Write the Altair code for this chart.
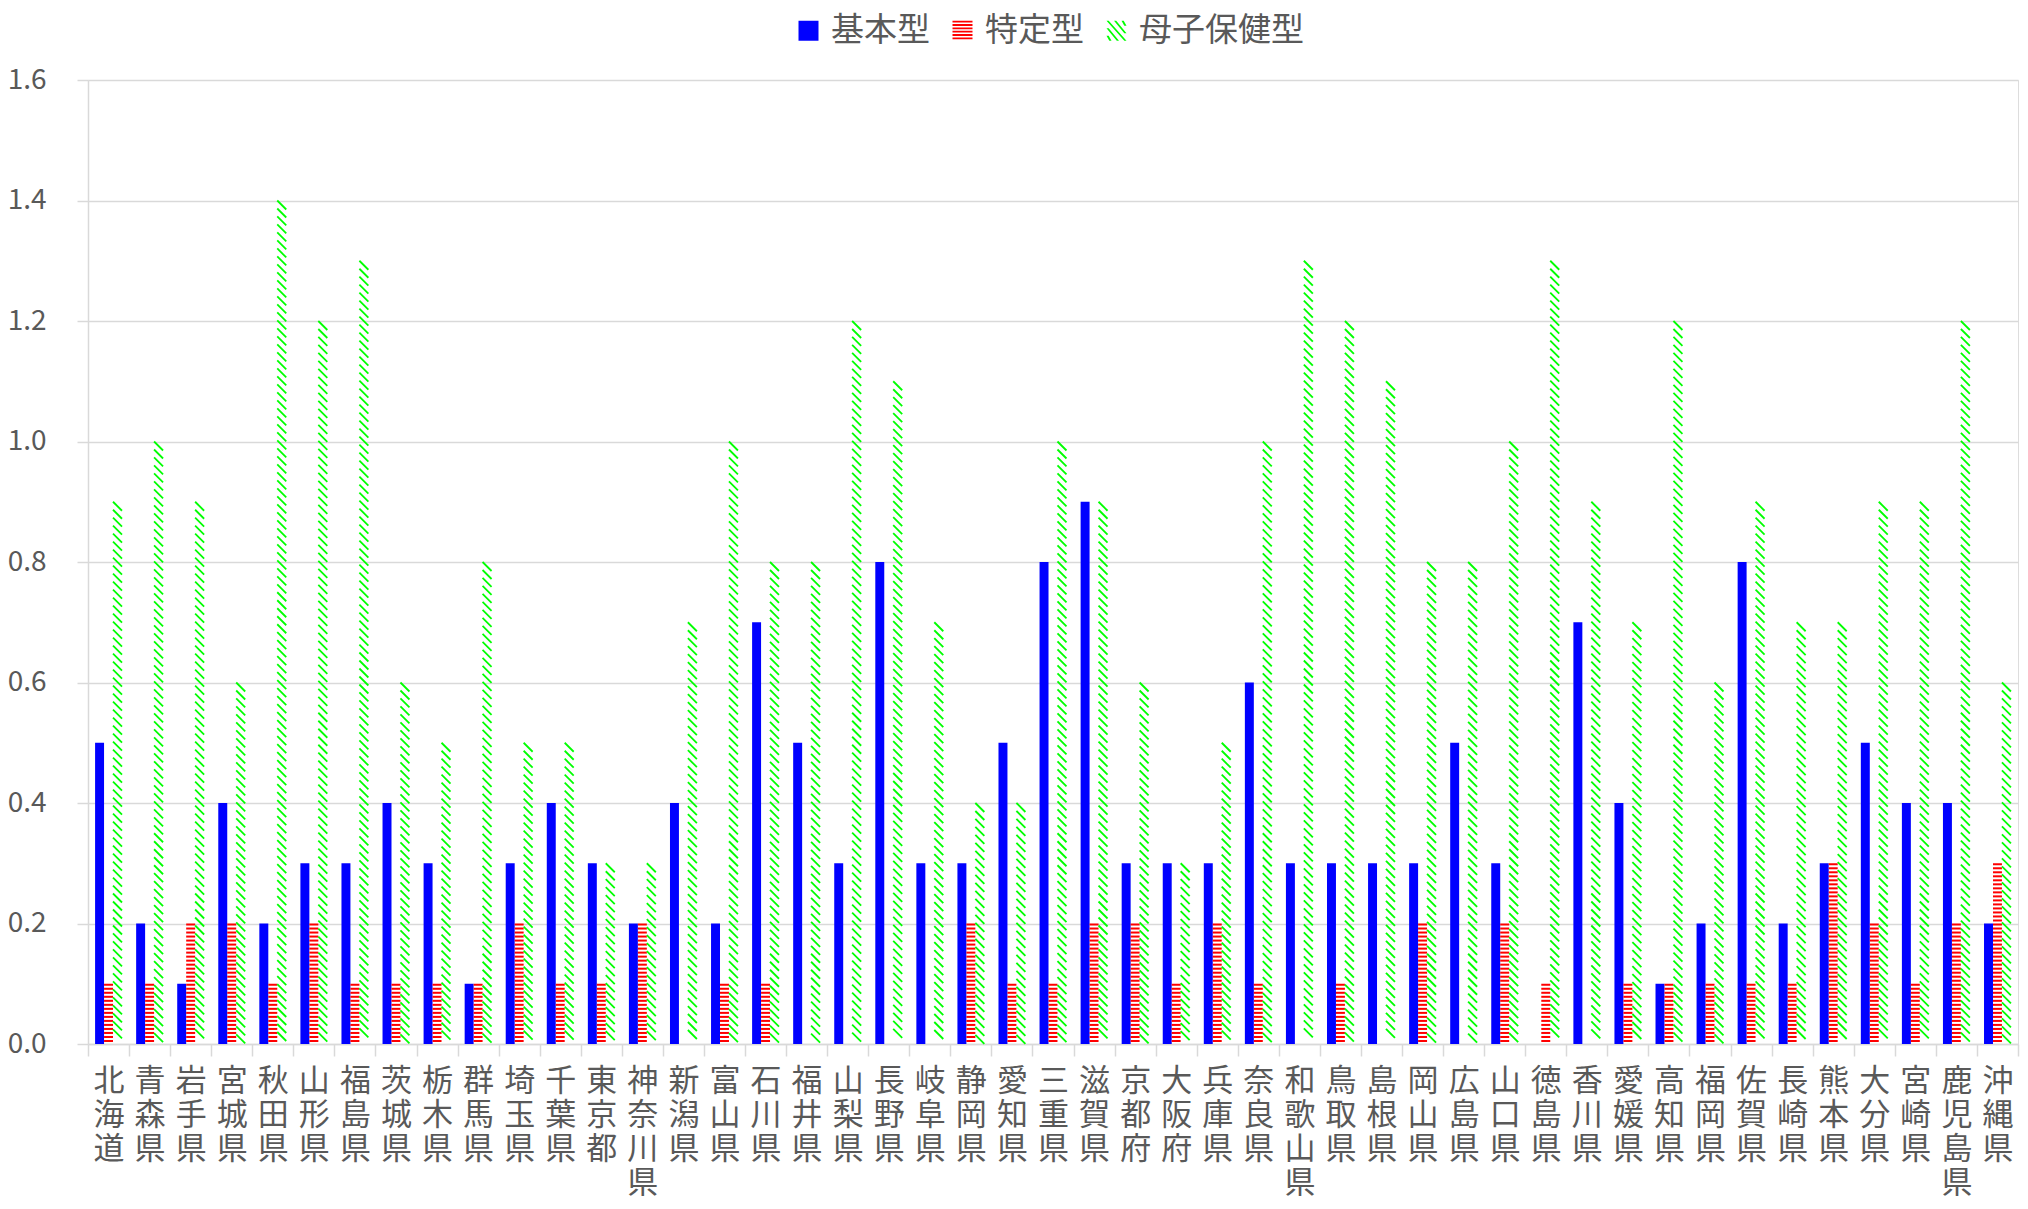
import altair as alt
import pandas as pd

prefs = ["北海道", "青森県", "岩手県", "宮城県", "秋田県", "山形県", "福島県", "茨城県",
         "栃木県", "群馬県", "埼玉県", "千葉県", "東京都", "神奈川県", "新潟県", "富山県",
         "石川県", "福井県", "山梨県", "長野県", "岐阜県", "静岡県", "愛知県", "三重県",
         "滋賀県", "京都府", "大阪府", "兵庫県", "奈良県", "和歌山県", "鳥取県", "島根県",
         "岡山県", "広島県", "山口県", "徳島県", "香川県", "愛媛県", "高知県", "福岡県",
         "佐賀県", "長崎県", "熊本県", "大分県", "宮崎県", "鹿児島県", "沖縄県"]
kihon = [0.5, 0.2, 0.1, 0.4, 0.2, 0.3, 0.3, 0.4, 0.3, 0.1, 0.3, 0.4, 0.3, 0.2, 0.4, 0.2,
         0.7, 0.5, 0.3, 0.8, 0.3, 0.3, 0.5, 0.8, 0.9, 0.3, 0.3, 0.3, 0.6, 0.3, 0.3, 0.3,
         0.3, 0.5, 0.3, 0.0, 0.7, 0.4, 0.1, 0.2, 0.8, 0.2, 0.3, 0.5, 0.4, 0.4, 0.2]
tokutei = [0.1, 0.1, 0.2, 0.2, 0.1, 0.2, 0.1, 0.1, 0.1, 0.1, 0.2, 0.1, 0.1, 0.2, 0.0, 0.1,
           0.1, 0.0, 0.0, 0.0, 0.0, 0.2, 0.1, 0.1, 0.2, 0.2, 0.1, 0.2, 0.1, 0.0, 0.1, 0.0,
           0.2, 0.0, 0.2, 0.1, 0.0, 0.1, 0.1, 0.1, 0.1, 0.1, 0.3, 0.2, 0.1, 0.2, 0.3]
boshi = [0.9, 1.0, 0.9, 0.6, 1.4, 1.2, 1.3, 0.6, 0.5, 0.8, 0.5, 0.5, 0.3, 0.3, 0.7, 1.0,
         0.8, 0.8, 1.2, 1.1, 0.7, 0.4, 0.4, 1.0, 0.9, 0.6, 0.3, 0.5, 1.0, 1.3, 1.2, 1.1,
         0.8, 0.8, 1.0, 1.3, 0.9, 0.7, 1.2, 0.6, 0.9, 0.7, 0.7, 0.9, 0.9, 1.2, 0.6]
series = ["基本型", "特定型", "母子保健型"]
colors = ["#0000FF", "#FF0000", "#00FF00"]

rows = []
for i, p in enumerate(prefs):
    for s, vals in zip(series, [kihon, tokutei, boshi]):
        rows.append({"pref": p, "series": s, "value": vals[i]})
df = pd.DataFrame(rows)

FONT = "Noto Sans CJK JP"
TXT = "#595959"
GRID = "#d9d9d9"

xaxis = alt.Axis(title=None, labelAngle=0, labelExpr="split(datum.label, '')",
                 labelFont=FONT, labelFontSize=31, labelLineHeight=34, labelColor=TXT,
                 labelPadding=10, labelBaseline="top", labelOverlap=False, labelBound=False,
                 tickBand="extent", tickSize=12, tickColor=GRID, tickWidth=1.5,
                 domainColor=GRID, domainWidth=1.5, grid=False)
yaxis = alt.Axis(title=None, values=[0, 0.2, 0.4, 0.6, 0.8, 1.0, 1.2, 1.4, 1.6], format=".1f",
                 labelFont=FONT, labelFontSize=28, labelColor=TXT, labelPadding=31,
                 tickSize=11, tickColor=GRID, tickWidth=1.5, domainColor=GRID, domainWidth=1.5,
                 grid=True, gridColor=GRID, gridWidth=1.5)

xscale = alt.Scale(paddingInner=0, paddingOuter=0)
yscale = alt.Scale(domain=[0, 1.6], nice=False)
X = alt.X("pref:N", sort=prefs, scale=xscale, axis=xaxis)
XO = alt.XOffset("series:N", sort=series,
                 scale=alt.Scale(domain=series, paddingInner=0, paddingOuter=0.79))

base = alt.Chart(df)

blue = base.transform_filter(
    "datum.series == '基本型' && datum.value > 0"
).mark_bar(color=colors[0]).encode(
    x=X, xOffset=XO, y=alt.Y("value:Q", scale=yscale, axis=yaxis)
)

# horizontal stripe pattern for 特定型
red = base.transform_filter(
    "datum.series == '特定型' && datum.value > 0"
).transform_calculate(
    k="sequence(0, round(datum.value * 150))"
).transform_flatten(["k"]).transform_calculate(
    top="datum.value - datum.k / 150",
    bot="datum.value - datum.k / 150 - 1 / 300"
).mark_bar(color=colors[1]).encode(
    x=X, xOffset=XO, y=alt.Y("top:Q", scale=yscale, axis=yaxis), y2="bot:Q"
)

# diagonal hatch pattern for 母子保健型
green = base.transform_filter(
    "datum.series == '母子保健型' && datum.value > 0"
).transform_calculate(
    k="sequence(0, floor((datum.value - 0.015) / 0.01327) + 1)"
).transform_flatten(["k"]).transform_calculate(
    c="datum.value - 0.00746 - datum.k * 0.01327"
).mark_point(shape="M-1,-1L1,1", filled=False, size=81, color=colors[2],
             strokeWidth=1.8, opacity=1).encode(
    x=X, xOffset=XO, y=alt.Y("c:Q", scale=yscale, axis=yaxis)
)

# legend symbols
sq = "M-1,-1H1V1H-1Z"
stripes = " ".join(
    "M-1,{a:.3f}H1V{b:.3f}H-1Z".format(a=-1 + i * 2 / 6, b=-1 + i * 2 / 6 + 0.18) for i in range(6)
)
hatch_parts = []
w = 0.22
for d in [-1.5, -0.75, 0.0, 0.75, 1.5]:
    x1, y1 = max(-1, -1 + d), max(-1, -1 - d)
    x2, y2 = min(1, 1 + d), min(1, 1 - d)
    hatch_parts.append(
        "M{:.3f},{:.3f}L{:.3f},{:.3f}L{:.3f},{:.3f}L{:.3f},{:.3f}Z".format(
            x1, y1, min(x1 + w, 1), y1, x2, y2, max(x2 - w, -1), y2)
    )
hatch = " ".join(hatch_parts)

legend = alt.Legend(title=None, orient="none", direction="horizontal", legendX=704, legendY=-66,
                    labelFont=FONT, labelFontSize=33, labelColor=TXT, labelLimit=0,
                    symbolSize=400, symbolStrokeWidth=0, labelOffset=6, columnPadding=16,
                    symbolOpacity=1)
leg = base.transform_filter("false").mark_point(filled=True, opacity=1).encode(
    color=alt.Color("series:N", scale=alt.Scale(domain=series, range=colors), legend=legend),
    shape=alt.Shape("series:N", scale=alt.Scale(domain=series, range=[sq, stripes, hatch]),
                    legend=legend),
)

chart = alt.layer(blue, red, green, leg).properties(
    width=1930, height=964,
    autosize=alt.AutoSizeParams(type="none"),
    padding={"left": 80, "top": 72, "right": 2, "bottom": 152},
).configure_view(stroke=None).configure(background="white")

chart.save("out.html", embed_options={"renderer": "svg", "actions": False})
